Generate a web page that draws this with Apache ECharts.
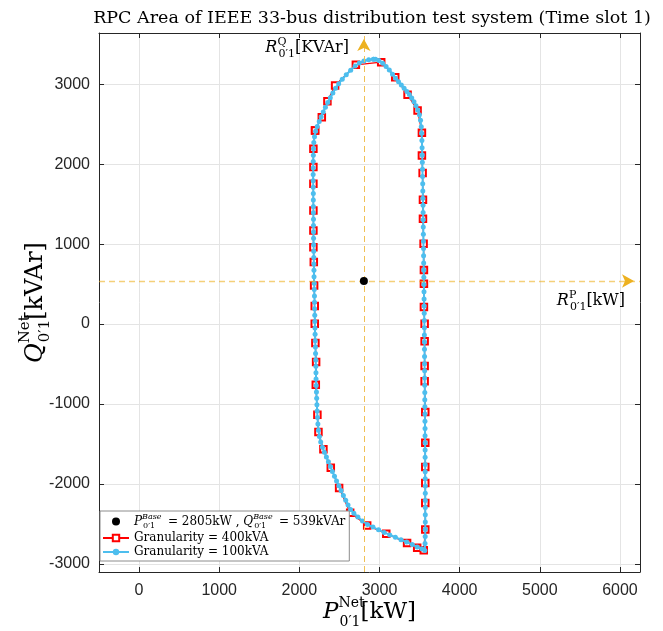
<!DOCTYPE html>
<html>
<head>
<meta charset="utf-8">
<script src="https://cdn.jsdelivr.net/npm/echarts@6/dist/echarts.min.js"></script>
<style>
  html, body { margin: 0; padding: 0; background: #fff; }
  #chart { width: 663px; height: 631px; }
</style>
</head>
<body>
<div id="chart"></div>
<script>
// Operating point of the feeder head (time slot 1)
const P_BASE = 2805;   // kW
const Q_BASE = 539;    // kVAr

// Axis extents
const X_MIN = -500, X_MAX = 6250;
const Y_MIN = -3100, Y_MAX = 3640;

// Boundary of the reactive/active power capability area, granularity 400 kVA
const g400P = [2196, 2175, 2175, 2175, 2175, 2175, 2175, 2180, 2184, 2192, 2192, 2200, 2209, 2205,
  2225, 2238, 2300, 2392, 2496, 2634, 2846, 3084, 3344, 3470, 3552,
  3571, 3571, 3571, 3571, 3571, 3571, 3563, 3563, 3563, 3563, 3554, 3554, 3554, 3550, 3542, 3542,
  3538, 3529, 3529, 3475, 3350, 3196, 3021, 2705, 2446, 2350, 2280, 2196];
const g400Q = [2421, 2192, 1963, 1754, 1421, 1171, 962, 775, 484, 225, 4, -237, -475, -760,
  -1133, -1350, -1566, -1795, -2050, -2358, -2518, -2622, -2738, -2798, -2829,
  -2567, -2238, -1988, -1788, -1483, -1100, -716, -525, -213, 4, 213, 504, 675, 1004, 1317, 1554,
  1888, 2109, 2392, 2671, 2867, 3088, 3275, 3242, 2984, 2788, 2588, 2421];

// Same boundary, granularity 100 kVA
const g100P = [2925, 2865, 2805, 2748, 2695, 2640, 2585, 2535, 2490, 2452, 2418, 2386, 2355, 2325,
  2298, 2272, 2248, 2223, 2202, 2189, 2180, 2176, 2174, 2173, 2173, 2172, 2172, 2173, 2174, 2174,
  2175, 2175, 2176, 2176, 2177, 2177, 2178, 2179, 2180, 2181, 2182, 2183, 2185, 2186, 2188, 2189,
  2190, 2192, 2193, 2195, 2196, 2198, 2200, 2202, 2204, 2206, 2207, 2208, 2210, 2213, 2216, 2219,
  2222, 2226, 2231, 2238, 2250, 2266, 2288, 2312, 2337, 2362, 2387, 2412, 2438, 2464, 2492, 2520,
  2549, 2578, 2607, 2638, 2680, 2730, 2788, 2850, 2918, 2988, 3058, 3128, 3198, 3268, 3338, 3408,
  3470, 3528, 3565,
  3568, 3570, 3571, 3571, 3571, 3571, 3571, 3571, 3571, 3570, 3570, 3570, 3569, 3569, 3569, 3568,
  3568, 3567, 3567, 3566, 3565, 3565, 3564, 3563, 3563, 3562, 3562, 3561, 3561, 3560, 3560, 3559,
  3558, 3557, 3556, 3555, 3554, 3553, 3552, 3551, 3550, 3549, 3548, 3547, 3546, 3545, 3544, 3543,
  3541, 3540, 3539, 3537, 3536, 3534, 3533, 3531, 3529, 3526, 3521, 3512, 3498, 3478, 3455, 3430,
  3402, 3372, 3341, 3307, 3272, 3237, 3200, 3162, 3122, 3082, 3040, 2992, 2950, 2925];
const g100Q = [3313, 3305, 3290, 3265, 3228, 3175, 3118, 3062, 3005, 2948, 2890, 2830, 2772, 2712,
  2652, 2592, 2532, 2472, 2412, 2342, 2272, 2192, 2112, 2032, 1952, 1872, 1792, 1712, 1632, 1552,
  1472, 1392, 1312, 1232, 1152, 1072, 992, 912, 832, 752, 672, 592, 512, 432, 352, 272,
  192, 112, 32, -48, -128, -208, -288, -368, -448, -528, -608, -688, -768, -848, -928, -1008,
  -1088, -1168, -1248, -1328, -1405, -1475, -1540, -1602, -1662, -1722, -1782, -1842, -1902, -1962, -2022, -2082,
  -2142, -2202, -2262, -2318, -2366, -2412, -2462, -2505, -2538, -2572, -2605, -2636, -2666, -2696, -2726, -2756,
  -2786, -2808, -2832,
  -2745, -2655, -2565, -2475, -2385, -2295, -2205, -2115, -2025, -1935, -1845, -1755, -1665, -1575, -1485, -1395,
  -1305, -1215, -1125, -1035, -945, -855, -765, -675, -585, -495, -405, -315, -225, -135, -45, 45,
  135, 225, 315, 405, 495, 585, 675, 765, 855, 945, 1035, 1125, 1215, 1305, 1395, 1485,
  1575, 1665, 1755, 1845, 1935, 2025, 2115, 2205, 2295, 2385, 2468, 2548, 2618, 2678, 2730, 2780,
  2828, 2870, 2910, 2950, 2990, 3030, 3075, 3125, 3178, 3222, 3262, 3296, 3312, 3313];

const zip = (a, b) => a.map((v, i) => [v, b[i]]);

const SERIF = 'DejaVu Serif';
const SANS = 'Liberation Sans';
const AXIS_COLOR = '#262626';
const GRID_COLOR = '#e4e4e4';

// rich-text styles for math-like labels: italic symbol, upright sup/sub stacked
function mathRich(size, supSize, subW) {
  const lh = Math.round(size * 1.45);
  const sub = { fontFamily: SERIF, fontSize: supSize, color: '#000', align: 'left', verticalAlign: 'bottom', lineHeight: supSize };
  if (subW) sub.width = subW;
  return {
    m: { fontFamily: SERIF, fontSize: size, fontStyle: 'italic', color: '#000', align: 'left', lineHeight: lh },
    u: { fontFamily: SERIF, fontSize: size, color: '#000', align: 'left', lineHeight: lh },
    sp: { fontFamily: SERIF, fontSize: supSize, color: '#000', align: 'left', verticalAlign: 'top', width: 1, lineHeight: supSize },
    spi: { fontFamily: SERIF, fontSize: supSize, fontStyle: 'italic', color: '#000', align: 'left', verticalAlign: 'top', width: 1, lineHeight: supSize },
    sb: sub
  };
}

const chart = echarts.init(document.getElementById('chart'), null, { renderer: 'canvas' });

const legendNames = {
  'base': '{m|P}{spi|Base}{sb|0′1}{u| = 2805kW , }{m|Q}{spi|Base}{sb|0′1}{u| = 539kVAr}',
  '400kVA': '{u|Granularity = 400kVA}',
  '100kVA': '{u|Granularity = 100kVA}'
};

const tickText = v => String(v);

const axisCommon = {
  type: 'value',
  axisLine: { show: true, onZero: false, lineStyle: { color: AXIS_COLOR, width: 1 } },
  axisTick: { show: true, inside: true, length: 5, lineStyle: { color: AXIS_COLOR } },
  splitNumber: 6
};

const option = {
  animation: false,
  backgroundColor: '#fff',
  title: {
    text: 'RPC Area of IEEE 33-bus distribution test system (Time slot 1)',
    left: 367, top: 4, textAlign: 'center',
    textStyle: { fontFamily: SERIF, fontSize: 17.5, fontWeight: 'normal', color: '#000' }
  },
  grid: { left: 99, right: 23, top: 33, bottom: 59, containLabel: false, outerBoundsMode: 'none' },
  legend: {
    orient: 'vertical', left: 100, top: 511,
    data: ['base', '400kVA', '100kVA'],
    backgroundColor: '#fff', borderColor: '#8c8c8c', borderWidth: 1, borderRadius: 0,
    padding: [2, 4, 3, 2], itemGap: 2, itemWidth: 26, itemHeight: 8,
    formatter: name => legendNames[name],
    textStyle: { fontFamily: SERIF, fontSize: 12, color: '#000', rich: mathRich(12, 8, 21) }
  },
  xAxis: [
    Object.assign({}, axisCommon, {
      min: X_MIN, max: X_MAX, position: 'bottom',
      axisLabel: { show: true, fontFamily: SANS, fontSize: 16, color: AXIS_COLOR, margin: 11, showMinLabel: false, showMaxLabel: false, formatter: tickText },
      splitLine: { show: true, lineStyle: { color: GRID_COLOR, width: 1 } },
      name: '{m|P}{sp|Net}{sb|0′1}{u|[kW]}',
      nameLocation: 'middle', nameGap: 24, nameMoveOverlap: false,
      nameTextStyle: { rich: mathRich(23, 14, 0) }
    }),
    Object.assign({}, axisCommon, {
      min: X_MIN, max: X_MAX, position: 'top',
      axisLabel: { show: false }, splitLine: { show: false }
    })
  ],
  yAxis: [
    Object.assign({}, axisCommon, {
      min: Y_MIN, max: Y_MAX, position: 'left',
      axisLabel: { show: true, fontFamily: SANS, fontSize: 16, color: AXIS_COLOR, margin: 9, showMinLabel: false, showMaxLabel: false, formatter: tickText },
      splitLine: { show: true, lineStyle: { color: GRID_COLOR, width: 1 } },
      name: '{m|Q}{sp|Net}{sb|0′1}{u|[kVAr]}',
      nameLocation: 'middle', nameGap: 46, nameMoveOverlap: false,
      nameTextStyle: { rich: mathRich(24, 15, 0) }
    }),
    Object.assign({}, axisCommon, {
      min: Y_MIN, max: Y_MAX, position: 'right',
      axisLabel: { show: false }, splitLine: { show: false }
    })
  ],
  graphic: [
    {
      type: 'text', x: 349, y: 48, z: 100,
      style: {
        text: '{m|R}{sp|Q}{sb|0′1}{u|[KVAr]}',
        align: 'right', verticalAlign: 'middle',
        rich: mathRich(16, 11, 0)
      }
    },
    {
      type: 'text', x: 625, y: 301, z: 100,
      style: {
        text: '{m|R}{sp|P}{sb|0′1}{u|[kW]}',
        align: 'right', verticalAlign: 'middle',
        rich: mathRich(16, 11, 0)
      }
    }
  ],
  series: [
    {
      name: '400kVA', type: 'line', xAxisIndex: 0, yAxisIndex: 0,
      data: zip(g400P, g400Q),
      symbol: 'emptyRect', symbolSize: 6.5,
      itemStyle: { color: '#ff0000', borderWidth: 1.2 },
      lineStyle: { color: '#ff0000', width: 1.2 },
      z: 2
    },
    {
      name: '100kVA', type: 'line', xAxisIndex: 0, yAxisIndex: 0,
      data: zip(g100P, g100Q),
      symbol: 'circle', symbolSize: 5,
      itemStyle: { color: '#4DBEEE', opacity: 1 },
      lineStyle: { color: '#4DBEEE', width: 2 },
      z: 3
    },
    {
      name: 'base', type: 'scatter', xAxisIndex: 0, yAxisIndex: 0,
      data: [[P_BASE, Q_BASE]],
      symbol: 'circle', symbolSize: 8,
      itemStyle: { color: '#000', opacity: 1 },
      z: 5,
      markLine: {
        silent: true, symbol: ['none', 'none'], label: { show: false },
        emphasis: { disabled: true },
        data: [
          [{ coord: [P_BASE, Y_MIN], lineStyle: { color: '#F0C055', type: [6, 4], width: 1, opacity: 1 } },
           { coord: [P_BASE, Y_MAX] }],
          [{ coord: [X_MIN, Q_BASE], lineStyle: { color: '#EDB120', type: [6, 4], width: 1.3, opacity: 0.6 } },
           { coord: [X_MAX, Q_BASE] }]
        ]
      },
      markPoint: {
        silent: true, label: { show: false },
        itemStyle: { color: '#EDB120' },
        data: [
          { coord: [P_BASE, Y_MAX], symbol: 'arrow', symbolSize: [10, 12], symbolOffset: [0, 6] },
          { coord: [X_MAX, Q_BASE], symbol: 'arrow', symbolSize: [10, 12], symbolRotate: -90, symbolOffset: [-6, 0] }
        ]
      }
    }
  ]
};

chart.setOption(option);
</script>
</body>
</html>
